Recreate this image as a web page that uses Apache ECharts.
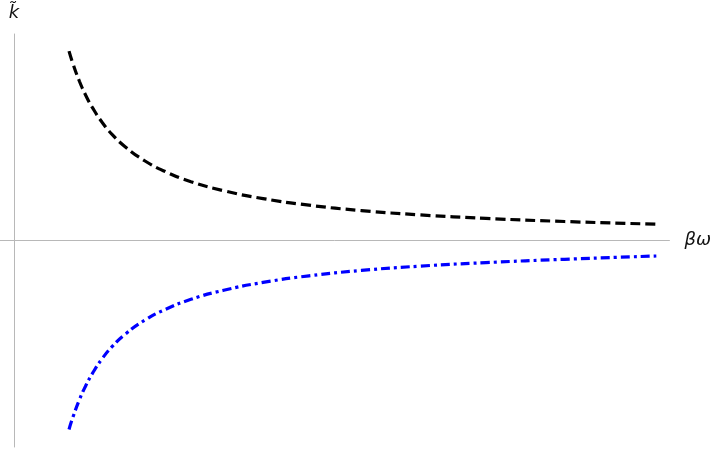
<!DOCTYPE html>
<html lang="en">
<head>
    <meta charset="UTF-8">
    <title>k vs beta omega</title>
    <script src="https://cdn.jsdelivr.net/npm/echarts@6/dist/echarts.min.js"></script>
    <style>
        html, body { margin: 0; padding: 0; background: #fff; }
    </style>
</head>
<body>
<div id="main" style="width:714px;height:450px"></div>
<script type="text/javascript">
    // beta*omega sample positions
    var omega = [0.84, 0.9, 1.0, 1.1, 1.2, 1.35, 1.5, 1.7, 2.0, 2.3, 2.7, 3.2, 3.8, 4.5, 5.3, 6.2, 7.2, 8.4, 9.8];
    // upper branch (black dashed)
    var kUpper = [9.17, 8.56, 7.70, 7.00, 6.42, 5.70, 5.13, 4.53, 3.85, 3.35, 2.85, 2.41, 2.03, 1.71, 1.45, 1.24, 1.07, 0.92, 0.79];
    // lower branch (blue dash-dot)
    var kLower = [-9.15, -8.55, -7.70, -7.00, -6.42, -5.70, -5.13, -4.53, -3.85, -3.35, -2.85, -2.41, -2.03, -1.71, -1.45, -1.24, -1.07, -0.91, -0.75];

    function pairs(xs, ys) {
        var out = [];
        for (var i = 0; i < xs.length; i++) out.push([xs[i], ys[i]]);
        return out;
    }

    var myChart = echarts.init(document.getElementById('main'));
    var axisColor = '#b8b8b8';
    var option = {
        animation: false,
        grid: { left: 0, right: 44, top: 34, bottom: 3 },
        xAxis: {
            type: 'value',
            min: -0.213, max: 10,
            name: 'βω',
            nameLocation: 'end',
            nameGap: 15,
            nameTextStyle: { fontFamily: 'DejaVu Sans', fontStyle: 'italic', fontSize: 18, color: '#111' },
            axisLine: { onZero: true, lineStyle: { color: axisColor, width: 1 } },
            axisTick: { show: false },
            axisLabel: { show: false },
            splitLine: { show: false }
        },
        yAxis: {
            type: 'value',
            min: -10, max: 10,
            name: 'k\u0303',
            nameLocation: 'end',
            nameGap: 12,
            nameTextStyle: { fontFamily: 'DejaVu Sans', fontStyle: 'italic', fontSize: 18, color: '#111' },
            axisLine: { onZero: true, lineStyle: { color: axisColor, width: 1 } },
            axisTick: { show: false },
            axisLabel: { show: false },
            splitLine: { show: false }
        },
        series: [{
            type: 'line',
            data: pairs(omega, kUpper),
            smooth: true,
            showSymbol: false,
            lineStyle: { color: '#000', width: 3.2, type: [10, 5] }
        }, {
            type: 'line',
            data: pairs(omega, kLower),
            smooth: true,
            showSymbol: false,
            lineStyle: { color: '#0000ff', width: 3.2, type: [9, 4, 3, 4] }
        }]
    };
    myChart.setOption(option);
</script>
</body>
</html>
